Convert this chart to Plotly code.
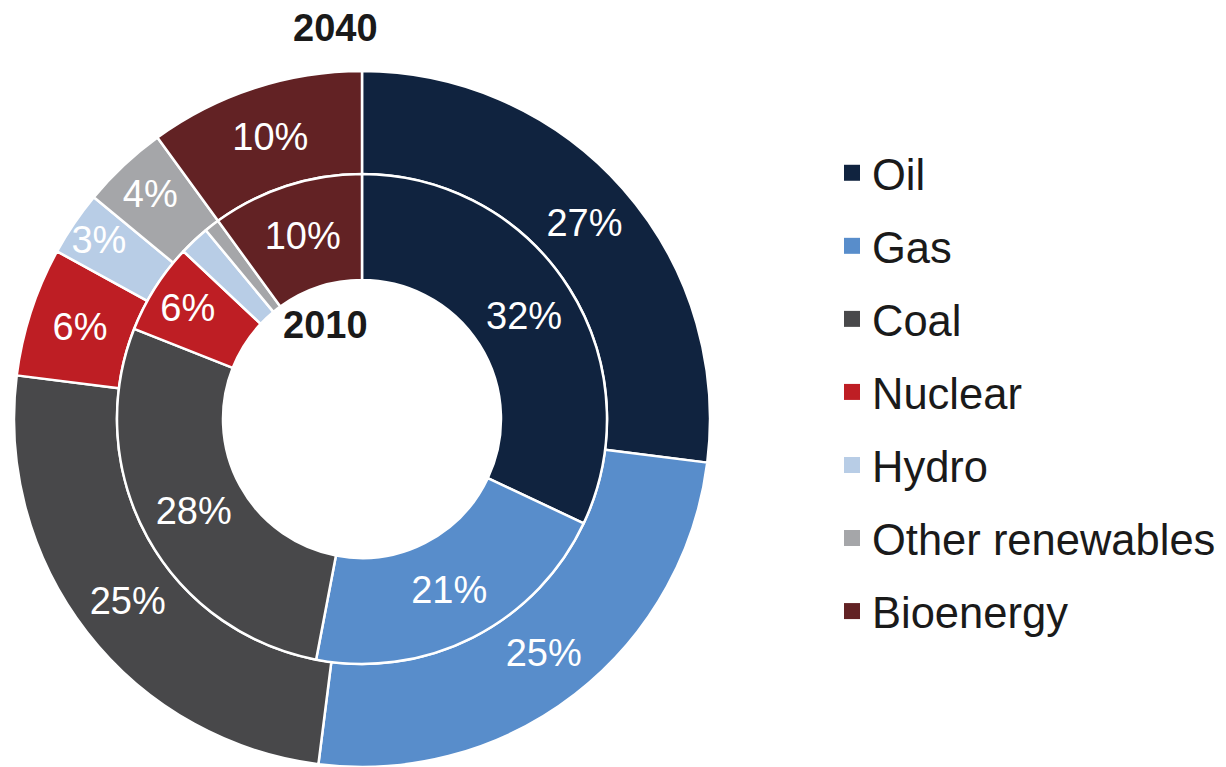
import plotly.graph_objects as go

# Primary energy mix, share of total
labels = ["Oil", "Gas", "Coal", "Nuclear", "Hydro", "Other renewables", "Bioenergy"]
share_2040 = [27, 25, 25, 6, 3, 4, 10]
share_2010 = [32, 21, 28, 6, 2, 1, 10]
colors = ["#10233f", "#588dcb", "#48484a", "#be1e24", "#b8cde6", "#a5a6a9", "#622224"]

FONT = "Liberation Sans, Arial, sans-serif"

# the page body has an 8px margin, so the figure is laid out 8px in
OFF = 8
W, H = 1226 - OFF, 767 - OFF

# ring geometry, page pixels
cx, cy = 362 - OFF, 419 - OFF
r_out, r_mid, r_in = 348, 245, 139


def dom(r):
    return dict(x=[(cx - r) / W, (cx + r) / W],
                y=[max(0, 1 - (cy + r) / H), min(1, 1 - (cy - r) / H)])


def px(x, y):
    return (x - OFF) / W, 1 - (y - OFF) / H


# small slices in 2010 carry no label
text_2040 = [f"{v}%" for v in share_2040]
text_2010 = [f"{v}%" if v >= 3 else "" for v in share_2010]

fig = go.Figure()

fig.add_trace(go.Pie(
    labels=labels, values=share_2040, text=text_2040, textinfo="text",
    sort=False, direction="clockwise", rotation=0,
    hole=r_mid / r_out, domain=dom(r_out),
    marker=dict(colors=colors, line=dict(color="white", width=2.5)),
    textposition="inside", insidetextorientation="horizontal",
    textfont=dict(family=FONT, size=38, color="white"),
    showlegend=False, name="2040",
))

fig.add_trace(go.Pie(
    labels=labels, values=share_2010, text=text_2010, textinfo="text",
    sort=False, direction="clockwise", rotation=0,
    hole=r_in / r_mid, domain=dom(r_mid),
    marker=dict(colors=colors, line=dict(color="white", width=2.5)),
    textposition="inside", insidetextorientation="horizontal",
    textfont=dict(family=FONT, size=38, color="white"),
    showlegend=False, name="2010",
))

# legend entries
for i, (lab, col) in enumerate(zip(labels, colors)):
    fig.add_trace(go.Scatter(
        x=[None], y=[None], mode="markers", name=lab,
        marker=dict(symbol="square", size=22, color=col),
        legendgroup=f"g{i}", showlegend=True,
    ))

for label, (x, y) in [("2040", (335, 28)), ("2010", (325, 325))]:
    ax, ay = px(x, y)
    fig.add_annotation(text=f"<b>{label}</b>", x=ax, y=ay, xref="paper", yref="paper",
                       xanchor="center", yanchor="middle", showarrow=False,
                       font=dict(family=FONT, size=38, color="#1a1a1a"))

lx, ly = px(832, 138)
fig.update_layout(
    width=W, height=H,
    margin=dict(l=0, r=0, t=0, b=0),
    paper_bgcolor="white", plot_bgcolor="white",
    xaxis=dict(visible=False), yaxis=dict(visible=False),
    uniformtext=dict(minsize=38, mode="show"),
    legend=dict(x=lx, y=ly, xanchor="left", yanchor="top",
                font=dict(family=FONT, size=43.5, color="#1a1a1a"),
                tracegroupgap=13.5, bgcolor="rgba(0,0,0,0)"),
)

fig.write_html("out.html")
